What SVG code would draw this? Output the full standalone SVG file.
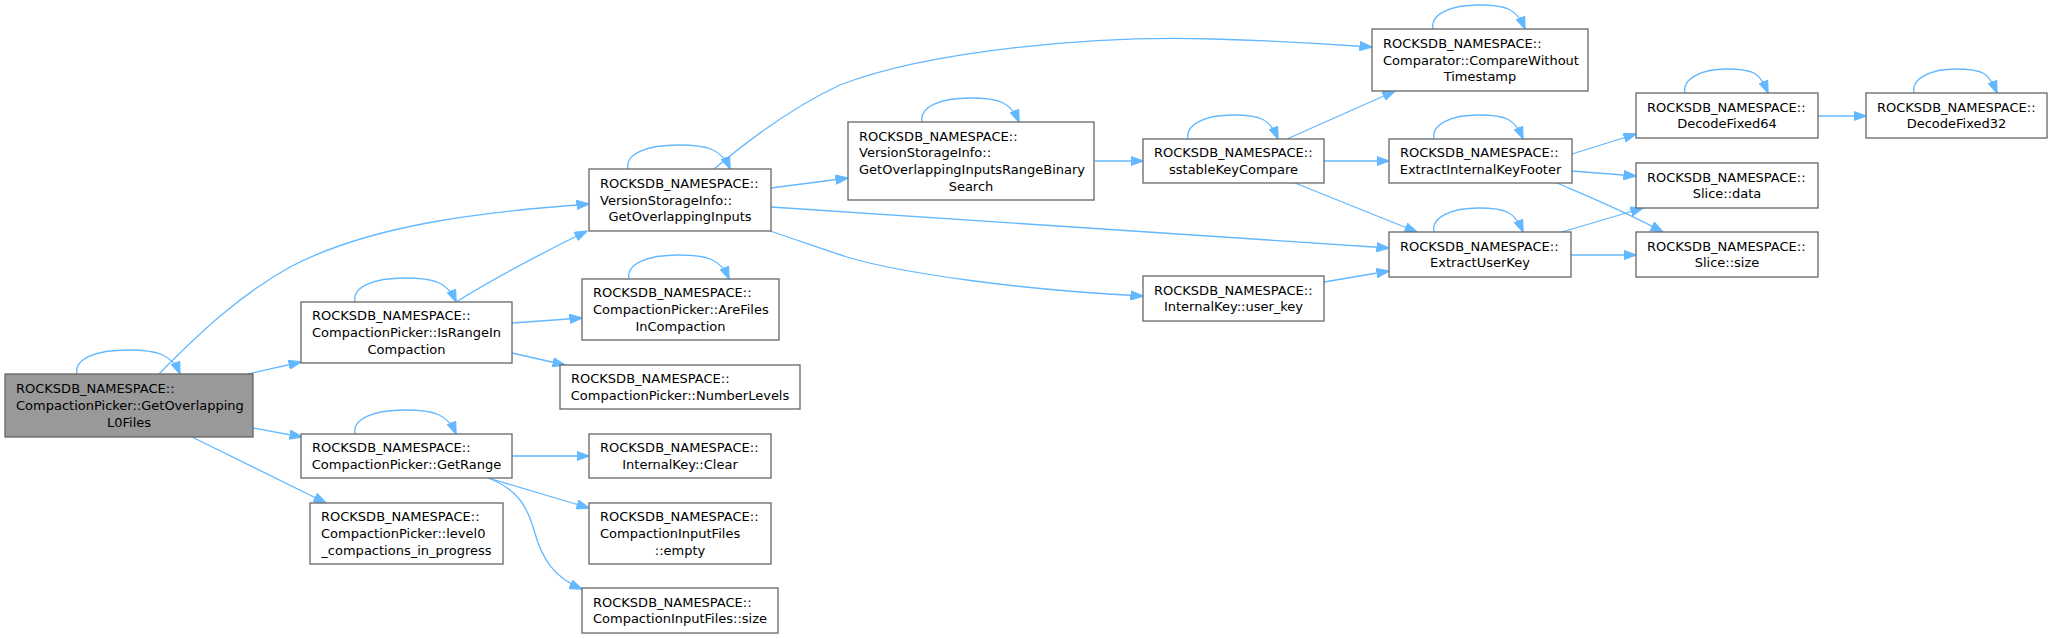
<svg xmlns="http://www.w3.org/2000/svg" width="2052" height="639" viewBox="0 0 2052 639">
<defs>
<style>
.n rect{fill:#ffffff;stroke:#666666;stroke-width:1.3}
.n.main rect{fill:#999999}
.n text{font-family:"DejaVu Sans",sans-serif;font-size:13px;fill:#000000}
.n text.c{text-anchor:middle}
#edges path{fill:none;stroke:#63b8ff;stroke-width:1.3;marker-end:url(#ah)}
</style>
<marker id="ah" markerUnits="userSpaceOnUse" markerWidth="13" markerHeight="10" viewBox="0 0 13 9.4" refX="12.5" refY="4.7" orient="auto"><path d="M0,0 L13,4.7 L0,9.4 z" fill="#63b8ff" stroke="#63b8ff" stroke-width="1"/></marker>
</defs>
<rect width="2052" height="639" fill="#ffffff"/>
<g id="edges">
<path d="M77,374 C74,359 95,350 128.5,350 C156.5,350 172,354 180,374"/>
<path d="M355,302 C352,287 373,278 405.5,278 C433.5,278 448,282 456,302"/>
<path d="M355,434 C352,419 373,410 405.5,410 C433.5,410 448,414 456,434"/>
<path d="M628,169 C625,154 646,145 679,145 C707,145 722,149 730,169"/>
<path d="M629,279 C626,264 647,255 679,255 C707,255 721,259 729,279"/>
<path d="M922,122 C919,107 940,98 970.5,98 C998.5,98 1011,102 1019,122"/>
<path d="M1188,139 C1185,124 1206,115 1233,115 C1261,115 1270,119 1278,139"/>
<path d="M1433,29 C1430,14 1451,5 1479,5 C1507,5 1517,9 1525,29"/>
<path d="M1434,139 C1431,124 1452,115 1478.5,115 C1506.5,115 1515,119 1523,139"/>
<path d="M1434,232 C1431,217 1452,208 1478.5,208 C1506.5,208 1515,212 1523,232"/>
<path d="M1685,93 C1682,78 1703,69 1726.5,69 C1754.5,69 1760,73 1768,93"/>
<path d="M1914,93 C1911,78 1932,69 1955.5,69 C1983.5,69 1989,73 1997,93"/>
<path d="M248,374 L301,362"/>
<path d="M253,428 L302,437"/>
<path d="M192,437 L326,503"/>
<path d="M159,374 C200,332 240,295 290,267 C370,225 480,212 589,204"/>
<path d="M456,302 C480,287 520,264 587,231"/>
<path d="M512,323 L582,318"/>
<path d="M512,353 L565,365"/>
<path d="M512,456 L589,456"/>
<path d="M488,478 L589,508"/>
<path d="M488,478 C520,490 528,510 534,530 C542,560 555,578 582,589"/>
<path d="M714,169 C745,143 790,108 840,85 C930,50 1100,35 1213,39 C1280,41 1330,44 1372,47"/>
<path d="M771,188 L848,178"/>
<path d="M771,207 L1389,248"/>
<path d="M770,231 C800,241 825,250 847,257 C900,273 1020,290 1143,296"/>
<path d="M1095,161 L1143,161"/>
<path d="M1287,139 L1395,91"/>
<path d="M1324,161 L1389,161"/>
<path d="M1295,183 L1417,232"/>
<path d="M1324,282 L1389,271"/>
<path d="M1572,154 L1636,134"/>
<path d="M1572,171 L1636,176"/>
<path d="M1557,183 C1580,193 1620,209 1663,232"/>
<path d="M1562,232 L1643,208"/>
<path d="M1571,255 L1636,255"/>
<path d="M1818,116 L1866,116"/>
</g>
<g id="main" class="n main"><rect x="5" y="374" width="248" height="63"/><text x="16" y="393.4">ROCKSDB_NAMESPACE::</text><text x="16" y="410">CompactionPicker::GetOverlapping</text><text class="c" x="129" y="426.7">L0Files</text></g>
<g id="isrange" class="n"><rect x="301" y="302" width="211" height="61"/><text x="312" y="320.4">ROCKSDB_NAMESPACE::</text><text x="312" y="337">CompactionPicker::IsRangeIn</text><text class="c" x="406.5" y="353.7">Compaction</text></g>
<g id="getrange" class="n"><rect x="301" y="434" width="211" height="44"/><text x="312" y="452.2">ROCKSDB_NAMESPACE::</text><text class="c" x="406.5" y="468.9">CompactionPicker::GetRange</text></g>
<g id="level0" class="n"><rect x="310" y="503" width="193" height="61"/><text x="321" y="521.4">ROCKSDB_NAMESPACE::</text><text x="321" y="538">CompactionPicker::level0</text><text class="c" x="406.5" y="554.7">_compactions_in_progress</text></g>
<g id="vsi" class="n"><rect x="589" y="169" width="182" height="62"/><text x="600" y="187.9">ROCKSDB_NAMESPACE::</text><text x="600" y="204.5">VersionStorageInfo::</text><text class="c" x="680" y="221.2">GetOverlappingInputs</text></g>
<g id="arefiles" class="n"><rect x="582" y="279" width="197" height="61"/><text x="593" y="297.4">ROCKSDB_NAMESPACE::</text><text x="593" y="314">CompactionPicker::AreFiles</text><text class="c" x="680.5" y="330.7">InCompaction</text></g>
<g id="numlevels" class="n"><rect x="560" y="365" width="240" height="44"/><text x="571" y="383.2">ROCKSDB_NAMESPACE::</text><text class="c" x="680" y="399.9">CompactionPicker::NumberLevels</text></g>
<g id="clear" class="n"><rect x="589" y="434" width="182" height="44"/><text x="600" y="452.2">ROCKSDB_NAMESPACE::</text><text class="c" x="680" y="468.9">InternalKey::Clear</text></g>
<g id="empty" class="n"><rect x="589" y="503" width="182" height="61"/><text x="600" y="521.4">ROCKSDB_NAMESPACE::</text><text x="600" y="538">CompactionInputFiles</text><text class="c" x="680" y="554.7">::empty</text></g>
<g id="cifsize" class="n"><rect x="582" y="588" width="196" height="45"/><text x="593" y="606.7">ROCKSDB_NAMESPACE::</text><text class="c" x="680" y="623.4">CompactionInputFiles::size</text></g>
<g id="rbs" class="n"><rect x="848" y="122" width="246" height="78"/><text x="859" y="140.5">ROCKSDB_NAMESPACE::</text><text x="859" y="157.2">VersionStorageInfo::</text><text x="859" y="173.9">GetOverlappingInputsRangeBinary</text><text class="c" x="971" y="190.5">Search</text></g>
<g id="skc" class="n"><rect x="1143" y="139" width="181" height="44"/><text x="1154" y="157.2">ROCKSDB_NAMESPACE::</text><text class="c" x="1233.5" y="173.9">sstableKeyCompare</text></g>
<g id="userkey" class="n"><rect x="1143" y="276" width="181" height="45"/><text x="1154" y="294.7">ROCKSDB_NAMESPACE::</text><text class="c" x="1233.5" y="311.4">InternalKey::user_key</text></g>
<g id="comparator" class="n"><rect x="1372" y="29" width="216" height="62"/><text x="1383" y="48">ROCKSDB_NAMESPACE::</text><text x="1383" y="64.6">Comparator::CompareWithout</text><text class="c" x="1480" y="81.3">Timestamp</text></g>
<g id="eikf" class="n"><rect x="1389" y="139" width="183" height="44"/><text x="1400" y="157.2">ROCKSDB_NAMESPACE::</text><text class="c" x="1480.5" y="173.9">ExtractInternalKeyFooter</text></g>
<g id="euk" class="n"><rect x="1389" y="232" width="182" height="45"/><text x="1400" y="250.7">ROCKSDB_NAMESPACE::</text><text class="c" x="1480" y="267.4">ExtractUserKey</text></g>
<g id="df64" class="n"><rect x="1636" y="93" width="182" height="45"/><text x="1647" y="111.7">ROCKSDB_NAMESPACE::</text><text class="c" x="1727" y="128.4">DecodeFixed64</text></g>
<g id="df32" class="n"><rect x="1866" y="93" width="181" height="45"/><text x="1877" y="111.7">ROCKSDB_NAMESPACE::</text><text class="c" x="1956.5" y="128.4">DecodeFixed32</text></g>
<g id="slicedata" class="n"><rect x="1636" y="163" width="182" height="45"/><text x="1647" y="181.7">ROCKSDB_NAMESPACE::</text><text class="c" x="1727" y="198.4">Slice::data</text></g>
<g id="slicesize" class="n"><rect x="1636" y="232" width="182" height="45"/><text x="1647" y="250.7">ROCKSDB_NAMESPACE::</text><text class="c" x="1727" y="267.4">Slice::size</text></g>
</svg>
